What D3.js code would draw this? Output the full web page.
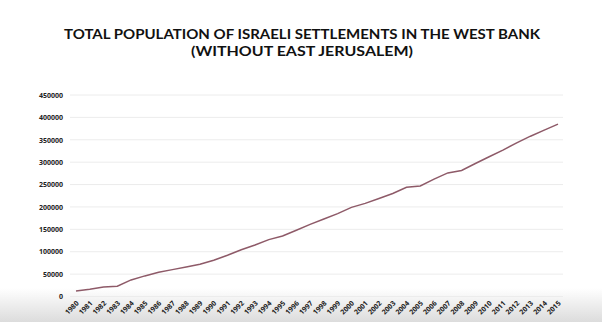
<!DOCTYPE html>
<html><head><meta charset="utf-8">
<script src="https://cdn.jsdelivr.net/npm/d3@7"></script>
<style>html,body{margin:0;padding:0;background:#fff;overflow:hidden}</style>
</head><body>
<svg id="c" width="602" height="322"></svg>
<script>
const titleLines = ["TOTAL POPULATION OF ISRAELI SETTLEMENTS IN THE WEST BANK", "(WITHOUT EAST JERUSALEM)"];
const years = d3.range(1980, 2016);
const population = [12300, 16000, 21000, 23000, 37000, 46000, 54000, 60000, 66000, 72000,
  81000, 92000, 104500, 115000, 127000, 135000, 148000, 161000, 173000, 185000,
  199000, 208000, 219000, 230000, 244000, 247000, 262000, 276000, 281500, 297000,
  312000, 327000, 343000, 358000, 371600, 385000];
const yTicks = [0, 50000, 100000, 150000, 200000, 250000, 300000, 350000, 400000, 450000];

const svg = d3.select("#c");
const defs = svg.append("defs");
const g = defs.append("linearGradient").attr("id","bg").attr("x1",0).attr("y1",0).attr("x2",0).attr("y2",1);
g.append("stop").attr("offset","0%").attr("stop-color","#ffffff");
g.append("stop").attr("offset","100%").attr("stop-color","#dcdcdc");
svg.append("rect").attr("x",0).attr("y",288).attr("width",602).attr("height",34).attr("fill","url(#bg)");

const x = d3.scaleLinear().domain([1980, 2015]).range([76, 558]);
const y = d3.scaleLinear().domain([0, 450000]).range([296.5, 95]);

// title
svg.append("g").selectAll("text").data(titleLines).join("text")
  .attr("x", 302).attr("y", (d,i)=> 38.5 + i*17)
  .attr("text-anchor","middle")
  .attr("font-family","Lato, 'Open Sans', sans-serif").attr("font-weight", "bold")
  .attr("font-size", 14).attr("fill","#111")
  .attr("textLength", (d,i)=> i===0 ? 476 : 222).attr("lengthAdjust","spacingAndGlyphs")
  .text(d=>d);

// grid
svg.append("g").selectAll("line").data(yTicks).join("line")
  .attr("x1", 70).attr("x2", 563)
  .attr("y1", d=>y(d)).attr("y2", d=>y(d))
  .attr("stroke", "#ececec").attr("stroke-width", 1);

// y axis labels
const yAxis = d3.axisLeft(y).tickValues(yTicks).tickSize(0).tickPadding(0).tickFormat(d3.format("d"));
const ya = svg.append("g").attr("transform","translate(63,0)").call(yAxis);
ya.select(".domain").remove();
ya.selectAll("text").attr("font-family","'Open Sans', sans-serif").attr("font-weight","bold")
  .attr("font-size",7).attr("fill","#222");

// x axis labels
const xAxis = d3.axisBottom(x).tickValues(years).tickSize(0).tickFormat(d3.format("d"));
const xa = svg.append("g").attr("transform","translate(0,302)").call(xAxis);
xa.select(".domain").remove();
xa.selectAll("text")
  .attr("font-family","'Open Sans', sans-serif").attr("font-weight","bold")
  .attr("font-size",7).attr("fill","#222")
  .attr("text-anchor","end").attr("dy","0.35em").attr("y",0)
  .attr("transform","translate(1,0) rotate(-45)");

// line
svg.append("path").datum(years.map((yr,i)=>[yr, population[i]]))
  .attr("fill","none").attr("stroke","#8e5a68").attr("stroke-width",1.5)
  .attr("d", d3.line().x(d=>x(d[0])).y(d=>y(d[1])));
</script>
</body></html>
